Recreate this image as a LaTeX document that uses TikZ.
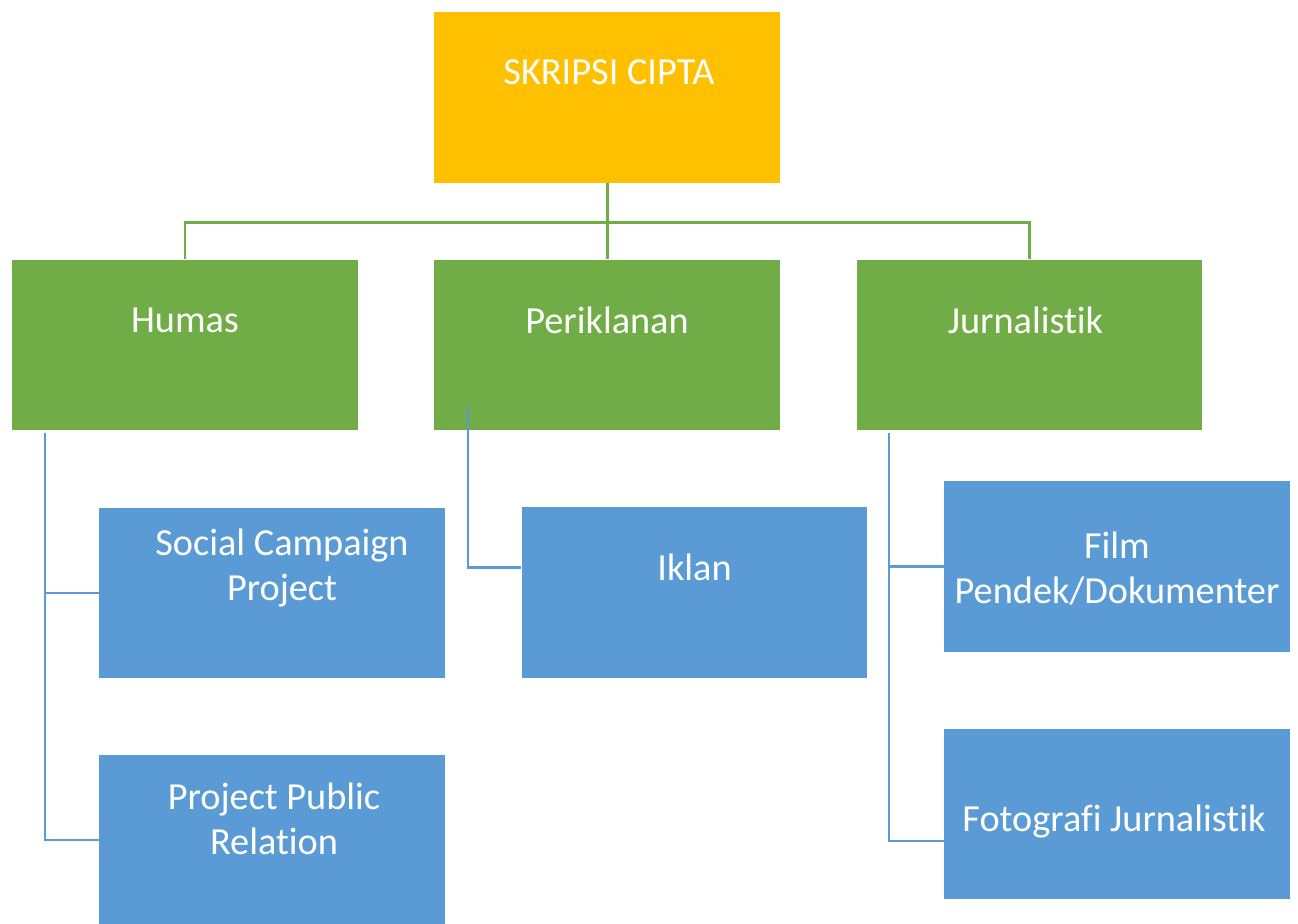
\documentclass[tikz,border=0pt]{standalone}
\usepackage{fontspec}
\setmainfont{Carlito}[Ligatures=NoCommon]
\usetikzlibrary{calc,positioning}

\definecolor{topyellow}{HTML}{FFC000}
\definecolor{divgreen}{HTML}{70AD47}
\definecolor{subblue}{HTML}{5B9BD5}

\tikzset{
    box/.style = {rectangle, minimum width = 6.92cm, minimum height = 3.42cm, inner sep = 0pt},
    topbox/.style = {box, fill = topyellow},
    divbox/.style = {box, fill = divgreen},
    subbox/.style = {box, fill = subblue},
    lbl/.style = {text = white, align = center, inner sep = 0pt, font = \fontsize{21.8}{25.6}\selectfont},
    grnline/.style = {draw = divgreen, line width = 1.7pt},
    bluline/.style = {draw = subblue, line width = 1.2pt}
}

\begin{document}
\begin{tikzpicture}[x=0.02cm, y=-0.02cm]
        \useasboundingbox (0,0) rectangle (1298,923);

        \node(skripsi) [topbox] at (607,97.5) {};
        \node(humas) [divbox] at (185,345) {};
        \node(perik) [divbox] at (607,345) {};
        \node(jurn) [divbox] at (1029.5,345) {};

        \node(social) [subbox] at (272,593) {};
        \node(ppr) [subbox] at (272,840) {};
        \node(iklan) [subbox] at (694.5,592.5) {};
        \node(film) [subbox] at (1117,566.5) {};
        \node(foto) [subbox] at (1117,814) {};

        % green connectors
        \draw[grnline] (skripsi.south) -- ++(0,39) -| (humas.north);
        \draw[grnline] (skripsi.south) -- ++(0,39) -| (jurn.north);
        \draw[grnline] (skripsi.south) -- (perik.north);

        % blue connectors
        \coordinate (humtrunk) at ($(humas.south west)+(33,2)$);
        \coordinate (periktrunk) at ($(perik.south west)+(34,-25)$);
        \coordinate (jurntrunk) at ($(jurn.south west)+(33,2)$);
        \draw[bluline] (humtrunk) |- (social.west);
        \draw[bluline] (humtrunk) |- (ppr.west);
        \draw[bluline] (periktrunk) |- ($(iklan.west)+(0,-25)$);
        \draw[bluline] (jurntrunk) |- (film.west);
        \draw[bluline] (jurntrunk) |- ($(foto.west)+(0,27)$);

        % texts
        \node(tskripsi) [lbl] at ($(skripsi)+(2,-25)$) {SKRIPSI CIPTA};
        \node(thumas) [lbl] at ($(humas)+(0,-25)$) {Humas};
        \node(tperik) [lbl] at ($(perik)+(0,-25)$) {Periklanan};
        \node(tjurn) [lbl] at ($(jurn)+(-4,-25)$) {Jurnalistik};
        \node(tsocial) [lbl] at ($(social)+(10,-25)$) {Social Campaign\\Project};
        \node(tppr) [lbl] at ($(ppr)+(2,-21)$) {Project Public\\Relation};
        \node(tiklan) [lbl] at ($(iklan)+(0,-25)$) {Iklan};
        \node(tfilm) [lbl] at ($(film)+(0,2)$) {Film\\Pendek/Dokumenter};
        \node(tfoto) [lbl] at ($(foto)+(-3,7)$) {Fotografi Jurnalistik};
    \end{tikzpicture}
\end{document}
